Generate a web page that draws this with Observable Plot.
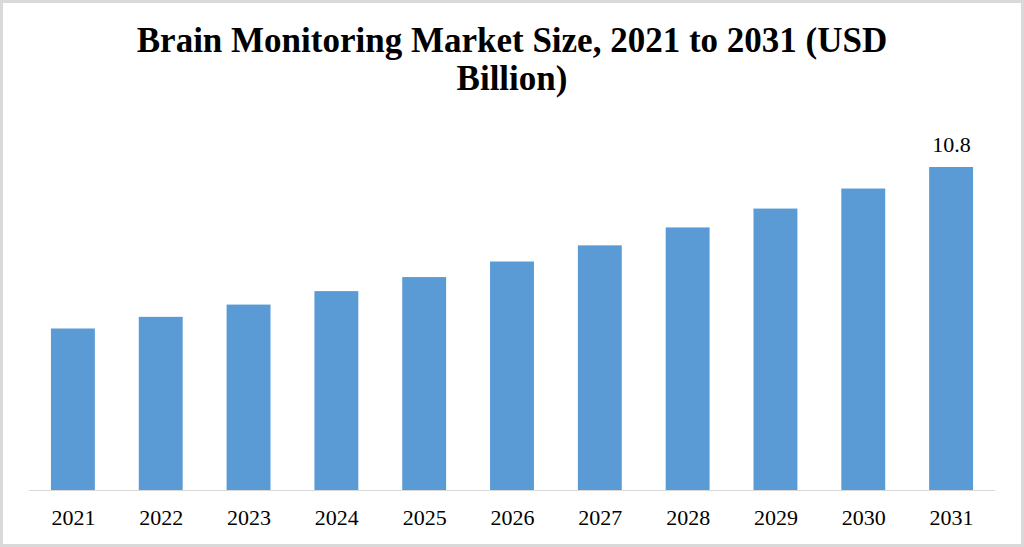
<!DOCTYPE html>
<html>
<head>
<meta charset="utf-8">
<script src="https://cdn.jsdelivr.net/npm/d3@7"></script>
<script src="https://cdn.jsdelivr.net/npm/@observablehq/plot@0.6"></script>
<style>
  html, body { margin: 0; padding: 0; background: #fff; }
  #wrap { position: relative; width: 1024px; height: 547px; overflow: hidden; background: #fff; }
  #title {
    height: 115px; box-sizing: border-box; padding-top: 22px;
    text-align: center; font-family: "Liberation Serif", "Times New Roman", serif;
    font-weight: bold; font-size: 35px; line-height: 38px; color: #000;
    white-space: nowrap;
  }
  #frame { position: absolute; left: 0; top: 0; width: 1024px; height: 547px; box-sizing: border-box;
    border: 3px solid #d9d9d9; pointer-events: none; }
  #chart svg { display: block; }
</style>
</head>
<body>
<div id="wrap">
  <div id="title">Brain Monitoring Market Size, 2021 to 2031 (USD<br>Billion)</div>
  <div id="chart"></div>
  <div id="frame"></div>
</div>
<script>
const years = ["2021", "2022", "2023", "2024", "2025", "2026", "2027", "2028", "2029", "2030", "2031"];
const values = [5.40, 5.79, 6.20, 6.65, 7.12, 7.64, 8.18, 8.78, 9.41, 10.08, 10.8];
const labelledYears = ["2031"];

const data = years.map((year, i) => ({year, value: values[i]}));
const labels = data.filter(d => labelledYears.includes(d.year));

const chart = Plot.plot({
  width: 1024,
  height: 432,
  marginLeft: 29,
  marginRight: 29,
  marginTop: 52,
  marginBottom: 57,
  style: {fontFamily: "'Liberation Serif', 'Times New Roman', serif", fontSize: "22px", color: "#000", background: "#fff"},
  x: {type: "band", domain: years, paddingInner: 0.5, paddingOuter: 0.25, round: false, label: null},
  y: {domain: [0, 10.8], axis: null},
  marks: [
    Plot.barY(data, {x: "year", y: "value", fill: "#5b9bd5"}),
    Plot.ruleY([0], {stroke: "#d9d9d9", strokeWidth: 1.2}),
    Plot.text(labels, {x: "year", y: "value", text: d => d.value.toFixed(1), lineAnchor: "bottom", dy: -16, fontSize: 22, fill: "#000"}),
    Plot.axisX({tickSize: 0, tickPadding: 19, fontSize: 22, label: null, fill: "#000"})
  ]
});
document.getElementById("chart").appendChild(chart);
</script>
</body>
</html>
